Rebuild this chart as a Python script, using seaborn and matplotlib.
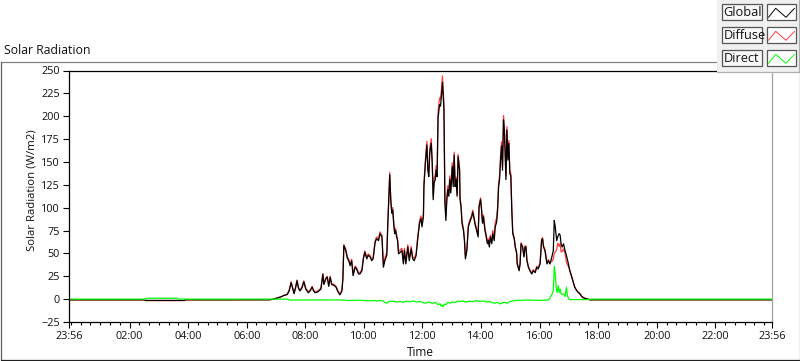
import numpy as np
import pandas as pd
import matplotlib
matplotlib.use("Agg")
import matplotlib.pyplot as plt
from matplotlib.lines import Line2D
from matplotlib.patches import Rectangle
from matplotlib.ticker import FixedLocator
import seaborn as sns

# ------------------------------------------------------------
# data (time = minutes after midnight, W/m2)
# ------------------------------------------------------------
global_min = [-4, 150, 153, 232, 235,
              406, 412, 418, 424, 430, 436, 443, 447, 451, 454,
              457, 460, 463, 466, 469, 473, 477, 481, 486, 490,
              494, 497, 500, 506, 512, 516, 518, 522, 525, 528,
              531, 534, 539, 543, 547, 551, 555, 557, 559, 563,
              566, 569, 572, 575, 578, 582, 585, 589, 592, 596,
              599, 602, 606, 609, 613, 616, 619, 623, 626, 630,
              633, 637, 640, 643, 647, 649, 651, 653, 655, 657,
              659, 661, 663, 665, 667, 669, 671, 674, 678, 681,
              683, 686, 690, 693, 697, 700, 703, 707, 710, 714,
              717, 719, 722, 723, 726, 729, 731, 733, 735, 738,
              740, 742, 744, 746, 748, 750, 752, 755, 757, 759,
              761, 764, 765, 766, 768, 770, 772, 774, 776, 778,
              781, 783, 785, 787, 789, 791, 793, 796, 797, 799,
              801, 804, 806, 808, 811, 814, 817, 821, 823, 825,
              828, 831, 834, 836, 839, 841, 843, 845, 848, 850,
              853, 855, 857, 859, 862, 864, 867, 869, 872, 874,
              876, 878, 880, 882, 884, 886, 888, 891, 893, 895,
              897, 899, 901, 903, 905, 908, 910, 913, 914, 916,
              918, 920, 922, 925, 928, 930, 932, 934, 937, 940,
              944, 947, 951, 954, 957, 961, 964, 966, 968, 971,
              973, 975, 978, 981, 983, 985, 988, 990, 992, 995,
              997, 1000, 1002, 1004, 1006, 1009, 1012, 1015, 1019, 1022,
              1026, 1029, 1032, 1036, 1039, 1043, 1046, 1051, 1056, 1063,
              1436]

global_wm2 = [-0.7, -0.7, -1.4, -1.4, -0.7,
              -0.7, -0.3, 0.5, 1.5, 2.5, 4, 5, 9, 18, 12,
              6, 12, 20, 12, 9, 12, 19, 11, 7, 9,
              13, 9, 7, 8, 11, 27, 16, 22, 24, 14,
              24, 16, 15, 13, 8, 4.7, 9, 22, 58.6, 53,
              45, 42, 36.6, 42, 25.6, 34.8, 33, 27.5, 27.5, 31,
              44, 51.3, 44, 48, 46, 42, 44, 62, 66, 64,
              71.5, 68, 35, 42, 48, 81, 108.8, 136, 108.8, 94,
              97.6, 83, 71.5, 75, 68, 64, 49.5, 51, 53, 38.5,
              53, 38.5, 57, 42, 55, 44, 42, 47.5, 64, 83,
              88, 79, 90, 122.8, 148.5, 168.6, 141, 134, 160, 170.5,
              148, 108.8, 128, 130, 141, 134, 198, 212.6, 211, 223,
              237, 207, 152, 104.5, 86, 108.8, 119.8, 112.5, 130.8, 116,
              145, 123, 157.6, 123, 130.8, 112.5, 155.8, 141, 108.8, 101,
              83, 75, 64, 44, 53, 79, 84.3, 90, 95.3, 90,
              80.9, 75, 68, 101, 108.8, 97.6, 83, 90, 75, 70,
              60.6, 64, 57, 68, 60.6, 71.5, 64, 79, 84.3, 97.6,
              123, 130.8, 152.9, 167.5, 141, 196, 181.5, 130.8, 185, 152,
              170.5, 137, 135, 97, 71.5, 66, 57, 50, 38.5, 34.8,
              31, 38.5, 60.5, 57, 46, 57, 57, 42, 34.8, 31,
              27.5, 31, 29, 34.8, 33, 38.5, 64, 66, 57, 53,
              46, 38.5, 42, 38.5, 42, 46, 53, 86, 79, 64,
              68, 71.6, 70, 60.5, 57, 60.5, 53, 47.6, 38.5, 31,
              23.8, 18.3, 12.8, 9.2, 7.3, 5.5, 2.9, 1.1, 0.4, -0.7,
              -0.7]

diffuse_wm2 = [-0.9, -0.9, -1.6, -1.6, -0.9,
               -0.7, -0.3, 0.5, 1.5, 2.5, 4, 5.5, 10, 19, 13,
               7, 13, 21, 13, 10, 13, 20, 12, 8, 10,
               14, 10, 8, 9, 12, 28, 17, 23, 25, 15,
               25, 17, 16, 14, 9, 5.7, 10, 23, 59.6, 54.5,
               46.5, 43.5, 38, 43.5, 27, 36.3, 34.5, 29, 29, 32.5,
               45.5, 52.8, 45.5, 49.5, 47.5, 43.5, 45.5, 63.5, 68, 66,
               73.5, 70, 37.5, 45, 51, 83.5, 111.3, 138.5, 111.3, 96.5,
               100, 85.5, 74, 77.5, 70.5, 66.5, 52, 53.5, 55.5, 41,
               55.5, 41, 59.5, 44.5, 57.5, 46.5, 44.5, 50, 66.5, 85.5,
               91, 83, 94, 126.8, 152.5, 172.6, 145, 138, 165, 175.5,
               153, 113.8, 133, 135, 146, 141, 205, 220, 218.5, 230,
               244, 215, 159.5, 112, 92, 113, 124, 116.5, 134.8, 120,
               149, 126.5, 160.6, 125.5, 133.3, 115, 158.3, 143.5, 111.3, 103.5,
               85.5, 77.5, 66.5, 46.5, 55.5, 81.5, 86.5, 92, 97.3, 92,
               83, 77, 70, 103, 110.8, 99.6, 85, 92, 77, 72,
               62.6, 66, 59, 70, 63, 75, 68.5, 83.5, 89, 102,
               127.5, 135.3, 157.4, 172, 145.5, 200.5, 186, 135, 188.5, 155,
               173.5, 140, 138, 100, 73.5, 67.5, 58.2, 51.2, 39.7, 36,
               32.2, 39.7, 61.7, 58.2, 47.2, 58.2, 58.2, 43.2, 36, 32.2,
               28.7, 32.2, 30.2, 36, 34.2, 39.7, 65.2, 67.2, 58.2, 54.2,
               47.2, 39.7, 43.2, 39, 41, 41, 44, 50, 51.5, 54,
               61, 57.6, 61, 51.5, 52, 55, 50, 40, 35.5, 31,
               24.3, 18.8, 13.3, 9.7, 7.8, 6, 3.2, 1.3, 0.5, -0.7,
               -0.7]

direct_min = [-4, 152, 156, 217, 221, 443, 449, 520, 561, 566,
              590, 610, 623, 627, 633, 639, 643, 647, 652, 660,
              667, 674, 680, 688, 695, 702, 709, 715, 721, 727,
              733, 740, 746, 752, 756, 758, 760, 762, 765, 768,
              772, 776, 781, 787, 792, 797, 803, 809, 817, 823,
              829, 838, 845, 852, 858, 863, 869, 874, 879, 884,
              889, 894, 899, 904, 910, 925, 940, 960, 977, 981,
              985, 988, 990, 992, 994, 996, 998, 1000, 1002, 1004,
              1009, 1012, 1015, 1017, 1020, 1022, 1059, 1063, 1436]
direct_wm2 = [0, 0, 1, 1, 0, 0, -1, -0.8, -1, -1.5,
              -1.2, -1.8, -1.5, -2, -1.5, -2, -3.5, -4.5, -2.5, -2.2,
              -3.2, -2.5, -3.5, -2.2, -2.8, -2, -3.3, -2.5, -3.8, -4.4,
              -3.2, -4.5, -3.5, -6, -5, -7.5, -6.2, -8.5, -5.5, -6,
              -3.5, -4.5, -3, -3.8, -2.2, -2.6, -2, -3.2, -2.2, -2.8,
              -1.8, -2.4, -2, -3.2, -2.5, -3.8, -4.5, -3.6, -5.2, -4,
              -3.5, -4.6, -2.5, -2.2, -1.5, -1.2, -1, -1.4, -1, 1,
              5, 9, 36, 27.5, 12.8, 7.3, 14.6, 7.3, 11, 5.5,
              5.5, 3, 13, 3.7, 0, -0.5, -0.5, 0, 0]

series_names = ["Global", "Diffuse", "Direct"]
series_colors = {"Global": "#000000", "Diffuse": "#ff3c3c", "Direct": "#00ff00"}
tick_hours = [-4 / 60, 2, 4, 6, 8, 10, 12, 14, 16, 18, 20, 22, 1436 / 60]
tick_labels = ["23:56", "02:00", "04:00", "06:00", "08:00", "10:00", "12:00",
               "14:00", "16:00", "18:00", "20:00", "22:00", "23:56"]

# long table for seaborn
frames = [
    pd.DataFrame({"Time": np.array(global_min) / 60, "W": diffuse_wm2, "Series": "Diffuse"}),
    pd.DataFrame({"Time": np.array(global_min) / 60, "W": global_wm2, "Series": "Global"}),
    pd.DataFrame({"Time": np.array(direct_min) / 60, "W": direct_wm2, "Series": "Direct"}),
]
df = pd.concat(frames, ignore_index=True)

sns.set_theme(style="white")
plt.rcParams['font.family'] = ['Open Sans', 'DejaVu Sans']

W, H = 800, 361
fig = plt.figure(figsize=(W / 100, H / 100), dpi=100)
fig.patch.set_facecolor("white")


def fx(x):
    return x / W


def fy(y):
    return 1 - y / H


ax = fig.add_axes([fx(69), fy(322), fx(772) - fx(69), fy(70.5) - fy(322)])
sns.lineplot(data=df, x="Time", y="W", hue="Series",
             hue_order=["Diffuse", "Global", "Direct"], palette=series_colors,
             estimator=None, sort=False, legend=False, linewidth=0.9, ax=ax)

ax.set_xlim(-4 / 60, 1436 / 60)
ax.set_ylim(-25, 250)
ax.set_yticks(np.arange(-25, 251, 25))
ax.xaxis.set_major_locator(FixedLocator(tick_hours))
ax.set_xticklabels(tick_labels)
ax.xaxis.set_minor_locator(FixedLocator(np.arange(0, 1440, 20) / 60))
ax.tick_params(axis="both", which="major", direction="out", length=4.5, width=0.8,
               color="black", labelsize=7.8, pad=2, labelcolor="#111111")
ax.tick_params(axis="x", which="minor", direction="out", length=2.5, width=0.8,
               color="black", bottom=True)
ax.tick_params(axis="x", which="major", bottom=True)
ax.tick_params(axis="y", which="major", left=True)

for side in ["left", "top", "bottom"]:
    ax.spines[side].set_color("black")
    ax.spines[side].set_linewidth(0.9)
ax.spines["right"].set_color("#a0a0a0")
ax.spines["right"].set_linewidth(0.9)

ax.set_xlabel("Time", fontsize=8.5, color="#111111")
ax.set_ylabel("Solar Radiation (W/m2)", fontsize=8.2, color="#111111")
ax.xaxis.label.set_va("center")
ax.xaxis.set_label_coords(0.5, (322 - 353) / 252)
ax.yaxis.label.set_va("center")
ax.yaxis.set_label_coords((32 - 69) / 703, 0.525)

# title
fig.text(fx(4), fy(50.5), "Solar Radiation", ha="left", va="center",
         fontsize=8.8, color="#111111")

# outer frame of the graph control
fig.add_artist(Line2D([fx(0.5), fx(717)], [fy(61.5), fy(61.5)], color="#808080", lw=0.9))
fig.add_artist(Line2D([fx(0.5), fx(0.5)], [fy(61.5), fy(360)], color="#606060", lw=0.9))
fig.add_artist(Line2D([fx(0.5), fx(799.5)], [fy(360), fy(360)], color="#202020", lw=0.9))
fig.add_artist(Line2D([fx(799.5), fx(799.5)], [fy(72), fy(360)], color="#808080", lw=0.9))

# plot legend panel
fig.add_artist(Rectangle((fx(717), fy(72)), fx(799) - fx(717), fy(0) - fy(72),
                         transform=fig.transFigure, facecolor="#f0f0f0",
                         edgecolor="none", zorder=3))
fig.add_artist(Line2D([fx(717), fx(799)], [fy(71.7), fy(71.7)], color="#b0b0b0", lw=0.9, zorder=4))
fig.add_artist(Line2D([fx(798.8), fx(798.8)], [fy(0), fy(71.7)], color="#b0b0b0", lw=0.9, zorder=4))

row_centers = [12, 35, 58]
for name, c in zip(series_names, row_centers):
    fig.add_artist(Rectangle((fx(721.7), fy(c + 8)), fx(762.3) - fx(721.7), fy(c - 8) - fy(c + 8),
                             transform=fig.transFigure, facecolor="#f7f7f7",
                             edgecolor="#555555", lw=0.9, zorder=5))
    fig.text(fx(723.5), fy(c + 0.5), name, ha="left", va="center", fontsize=9.2,
             color="#111111", zorder=6)
    fig.add_artist(Rectangle((fx(767), fy(c + 8)), fx(795.7) - fx(767), fy(c - 8) - fy(c + 8),
                             transform=fig.transFigure, facecolor="white",
                             edgecolor="#555555", lw=0.9, zorder=5))
    fig.add_artist(Line2D([fx(768.5), fx(775.7), fx(786), fx(794.5)],
                          [fy(c + 5.3), fy(c - 3.7), fy(c + 5.3), fy(c - 3.7)],
                          color=series_colors[name], lw=0.7, zorder=6))

fig.savefig("out.png", dpi=100)
